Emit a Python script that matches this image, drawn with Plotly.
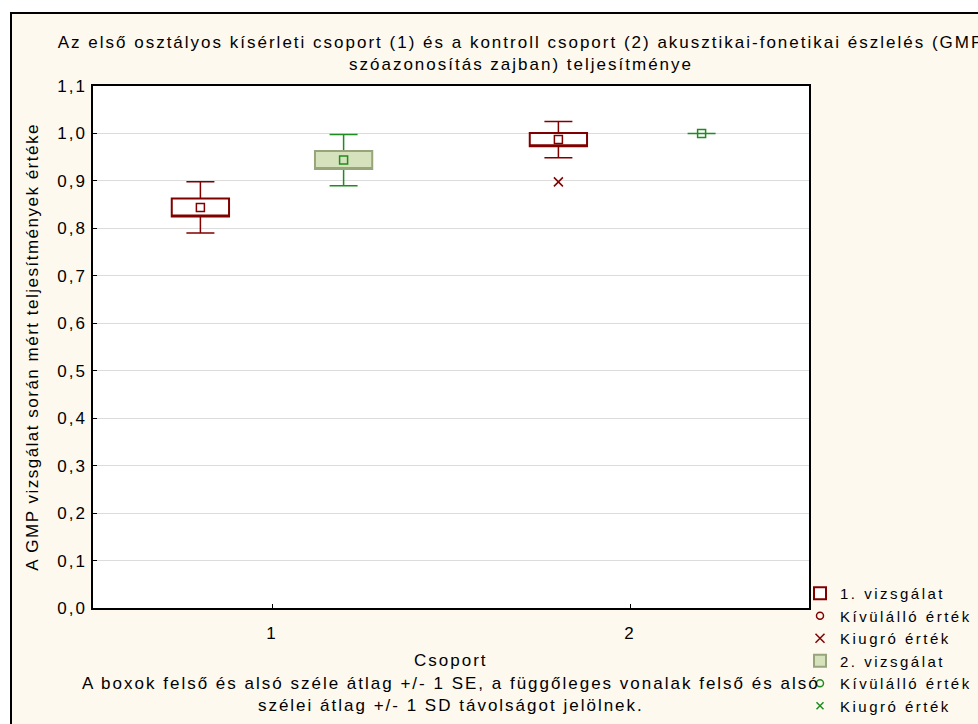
import plotly.graph_objects as go

# group categories
groups = ["1", "2"]

# 1. vizsgálat (first test): mean, SE, SD per group
mean_1 = [0.844, 0.987]
se_1 = [0.019, 0.014]
sd_1 = [0.054, 0.038]

# 2. vizsgálat (second test)
mean_2 = [0.944, 1.000]
se_2 = [0.019, 0.000]
sd_2 = [0.054, 0.000]

# extreme values (Kiugró érték) of the first test
extreme_x_1 = ["2"]
extreme_y_1 = [0.898]

RED = "#800000"
GREEN = "#1E8C1E"
OLIVE = "#98A47C"
LIGHT_GREEN = "#D6E2BC"
CREAM = "#FEF9EF"

W, H = 978, 724
L, R, T, B = 93, 809, 86, 608


def px_x(px):
    return (px - L) / (R - L)


def px_y(py):
    return (B - py) / (B - T)


def se_box(name, x, mean, se, line, fill, group, legend=True):
    lo = [m - s for m, s in zip(mean, se)]
    hi = [m + s for m, s in zip(mean, se)]
    return go.Box(name=name, x=x, q1=lo, median=lo, q3=hi, lowerfence=lo, upperfence=hi,
                  line=dict(color=line, width=2), fillcolor=fill, whiskerwidth=0,
                  boxpoints=False, offsetgroup=group, yaxis="y2", showlegend=legend,
                  hoverinfo="skip")


def empty_marker(name, symbol, color, group):
    return go.Scatter(name=name, x=["1"], y=[None], mode="markers",
                      marker=dict(symbol=symbol, size=7, color=color, line=dict(width=1.5, color=color)),
                      offsetgroup=group, orientation="v", yaxis="y2")


fig = go.Figure()

# legend-carrying traces, in legend order
fig.add_trace(se_box("1. vizsgálat", groups, mean_1, se_1, RED, "white", "a"))
fig.add_trace(empty_marker("Kívülálló érték", "circle-open", RED, "a"))
fig.add_trace(go.Scatter(name="Kiugró érték", x=extreme_x_1, y=extreme_y_1, mode="markers",
                         marker=dict(symbol="x-thin-open", size=9, color=RED, line=dict(width=1.5, color=RED)),
                         offsetgroup="a", orientation="v", yaxis="y2"))
box2_x = [g for g, s in zip(groups, se_2) if s > 0]
box2_m = [m for m, s in zip(mean_2, se_2) if s > 0]
box2_s = [s for s in se_2 if s > 0]
fig.add_trace(se_box("2. vizsgálat", box2_x, box2_m, box2_s, OLIVE, LIGHT_GREEN, "b"))
fig.add_trace(empty_marker("Kívülálló érték", "circle-open", GREEN, "b"))
fig.add_trace(empty_marker("Kiugró érték", "x-thin-open", GREEN, "b"))

# whiskers (mean +/- SD) on the lower layer, boxes cover them
for mean, sd, color, grp in [(mean_1, sd_1, RED, "a"), (mean_2, sd_2, GREEN, "b")]:
    fig.add_trace(go.Scatter(x=groups, y=mean, mode="markers", marker=dict(color="rgba(0,0,0,0)", size=2),
                             error_y=dict(type="data", array=sd, color=color, thickness=1.5, width=14),
                             offsetgroup=grp, orientation="v", showlegend=False, hoverinfo="skip"))

# mean markers on top of the boxes
for mean, color, grp in [(mean_1, RED, "a"), (mean_2, GREEN, "b")]:
    fig.add_trace(go.Scatter(x=groups, y=mean, mode="markers",
                             marker=dict(symbol="square-open", size=8, color=color, line=dict(width=1.5, color=color)),
                             offsetgroup=grp, orientation="v", yaxis="y2", showlegend=False, hoverinfo="skip"))

axis_common = dict(showline=True, mirror=True, linecolor="black", linewidth=1.5,
                   ticks="inside", ticklen=4, tickcolor="black", tickfont=dict(size=17))

fig.update_layout(
    width=W, height=H,
    margin=dict(l=L, r=W - R, t=T, b=H - B, autoexpand=False),
    paper_bgcolor=CREAM, plot_bgcolor="white",
    font=dict(family="Arial, Liberation Sans, sans-serif", size=17, color="black"),
    separators=", ",
    boxmode="group", boxgap=0.2, boxgroupgap=0.6,
    scattermode="group", scattergap=0.2,
    title=dict(text="Az első osztályos kísérleti csoport (1) és a kontroll csoport (2) akusztikai-fonetikai észlelés (GMP<br>szóazonosítás zajban) teljesítménye",
               x=px_x(521), xref="paper", xanchor="center", y=1 - 48 / H, yanchor="middle",
               font=dict(size=17)),
    xaxis=dict(type="category", range=[-0.5, 1.5], showgrid=False, ticklabelstandoff=9, **axis_common),
    yaxis=dict(range=[0, 1.1], dtick=0.1, tickformat=".1f", showgrid=True, gridcolor="#DCDCDC",
               zeroline=False, ticklabelstandoff=1,
               title=dict(text="A GMP vizsgálat során mért teljesítmények értéke", standoff=20, font=dict(size=17)),
               **axis_common),
    yaxis2=dict(overlaying="y", range=[0, 1.1], visible=False),
    legend=dict(x=px_x(800), y=px_y(577), xanchor="left", yanchor="top", bgcolor="rgba(0,0,0,0)",
                font=dict(size=15), traceorder="normal", itemwidth=30),
    showlegend=True,
    annotations=[
        dict(text="Csoport", xref="paper", yref="paper", x=0.5, y=px_y(660), showarrow=False,
             xanchor="center", yanchor="middle", font=dict(size=17)),
        dict(text="A boxok felső és alsó széle átlag +/- 1 SE, a függőleges vonalak felső és alsó<br>szélei átlag +/- 1 SD távolságot jelölnek.",
             xref="paper", yref="paper", x=0.5, y=px_y(694), showarrow=False,
             xanchor="center", yanchor="middle", font=dict(size=17)),
    ],
    shapes=[
        dict(type="rect", xref="paper", yref="paper", x0=px_x(11), x1=px_x(1000), y0=px_y(760), y1=px_y(13),
             line=dict(color="black", width=2), fillcolor="rgba(0,0,0,0)", layer="above"),
        dict(type="rect", xref="paper", yref="paper", x0=px_x(-5), x1=px_x(1000), y0=px_y(12), y1=px_y(-5),
             line=dict(width=0), fillcolor="white", layer="below"),
        dict(type="rect", xref="paper", yref="paper", x0=px_x(-5), x1=px_x(10), y0=px_y(760), y1=px_y(-5),
             line=dict(width=0), fillcolor="white", layer="below"),
    ],
)

# page without body margin; the original uses widely spaced lettering,
# and its legend runs past the right edge instead of being clipped
page_js = ("document.body.style.margin = '0';"
           "document.querySelectorAll('.main-svg text').forEach(t => t.style.letterSpacing = '2px');"
           "document.querySelectorAll('.legendtext').forEach(t => t.style.letterSpacing = '2.5px');"
           "document.querySelectorAll('.ytitle').forEach(t => t.style.letterSpacing = '1.5px');"
           "document.querySelectorAll('.legend [clip-path]').forEach(e => e.removeAttribute('clip-path'));")
fig.write_html("out.html", post_script=page_js, config={"displayModeBar": False})
